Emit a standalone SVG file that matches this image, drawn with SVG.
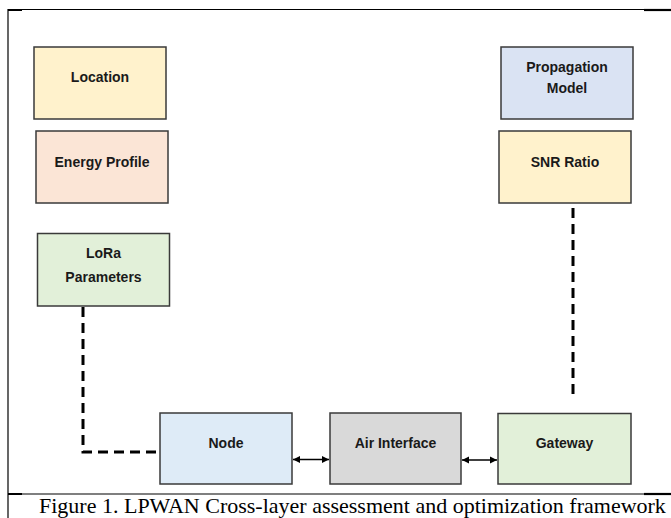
<svg xmlns="http://www.w3.org/2000/svg" width="671" height="518" viewBox="0 0 671 518">
<defs>
<style>
.box{stroke:#3a3a3a;stroke-width:1.5}
.lbl{font-family:"Liberation Sans",Arial,sans-serif;font-weight:bold;font-size:14px;fill:#1a1a1a;text-anchor:middle}
.dash{fill:none;stroke:#000;stroke-width:3;stroke-dasharray:10,6}
.arr{stroke:#000;stroke-width:1.5;marker-start:url(#ah);marker-end:url(#ah)}
.frame{stroke:#000;stroke-width:1.2;fill:none}
.cap{font-family:"Liberation Serif","Times New Roman",serif;font-size:22px;fill:#000}
</style>
<marker id="ah" markerWidth="8" markerHeight="8" refX="7" refY="4" orient="auto-start-reverse" markerUnits="userSpaceOnUse">
<path d="M0,0.5 L7,4 L0,7.5 Z" fill="#000"/>
</marker>
</defs>
<rect width="671" height="518" fill="#fff"/>
<g id="frame">
<line class="frame" x1="8" y1="9.5" x2="671" y2="9.5"/>
<line class="frame" x1="8" y1="9" x2="8" y2="518"/>
<line class="frame" x1="8" y1="494" x2="671" y2="494"/>
<line x1="8" y1="10" x2="22" y2="10" stroke="#000" stroke-width="2"/>
<line x1="8" y1="494" x2="22" y2="494" stroke="#000" stroke-width="2"/>
<line x1="644" y1="10" x2="671" y2="10" stroke="#000" stroke-width="2.2"/>
<line x1="644" y1="494" x2="671" y2="494" stroke="#000" stroke-width="2.2"/>
</g>
<g id="connectors">
<polyline class="dash" points="83,307 83,452 157,452"/>
<line class="dash" x1="573" y1="208" x2="573" y2="400"/>
<line class="arr" x1="293" y1="459.5" x2="329" y2="459.5"/>
<line class="arr" x1="462" y1="460" x2="497" y2="460"/>
</g>
<g id="location"><rect class="box" x="34" y="47" width="132" height="72" fill="#fff2cc"/><text class="lbl" x="100" y="82">Location</text></g>
<g id="energy"><rect class="box" x="36" y="131" width="132" height="72" fill="#fbe5d6"/><text class="lbl" x="102" y="167">Energy Profile</text></g>
<g id="lora"><rect class="box" x="37.5" y="233.5" width="132" height="72.5" fill="#e2f0d9"/><text class="lbl" x="103.5" y="258">LoRa</text><text class="lbl" x="103.5" y="282">Parameters</text></g>
<g id="propagation"><rect class="box" x="501" y="47" width="132" height="72" fill="#dae3f3"/><text class="lbl" x="567" y="72">Propagation</text><text class="lbl" x="567" y="93">Model</text></g>
<g id="snr"><rect class="box" x="499" y="131" width="132" height="72" fill="#fff2cc"/><text class="lbl" x="565" y="167">SNR Ratio</text></g>
<g id="node"><rect class="box" x="160" y="413" width="132" height="71" fill="#deebf7"/><text class="lbl" x="226" y="448">Node</text></g>
<g id="air"><rect class="box" x="330" y="413" width="131" height="71" fill="#d9d9d9"/><text class="lbl" x="395.5" y="448">Air Interface</text></g>
<g id="gateway"><rect class="box" x="498" y="413.5" width="133" height="70.5" fill="#e2f0d9"/><text class="lbl" x="564.5" y="448">Gateway</text></g>
<text class="cap" x="39" y="513">Figure 1. LPWAN Cross-layer assessment and optimization framework</text>
</svg>
